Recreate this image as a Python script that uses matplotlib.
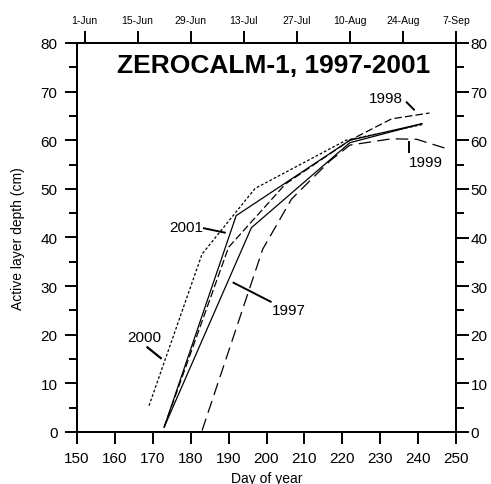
import matplotlib
matplotlib.use("Agg")
import matplotlib.pyplot as plt

plt.rcParams['font.family'] = ['Liberation Sans', 'DejaVu Sans']

# Data (day of year, active layer depth in cm)
day_1997 = [173, 196, 222, 241]
depth_1997 = [1, 42, 59.5, 63.4]

day_1998 = [173, 190, 205, 222, 233, 243]
depth_1998 = [1, 38, 51, 60, 64.4, 65.6]

day_1999 = [183, 199, 206.6, 216.8, 222, 233, 239.6, 247]
depth_1999 = [0.3, 37.6, 47.9, 55.8, 59, 60.3, 60.2, 58.4]

day_2000 = [169, 183, 197, 221, 241]
depth_2000 = [5.4, 36.6, 50.1, 60, 63.2]

day_2001 = [173, 192, 222, 241]
depth_2001 = [1, 44.5, 60, 63.4]

bottom_ticks = [150, 160, 170, 180, 190, 200, 210, 220, 230, 240, 250]
top_tick_days = [152, 166, 180, 194, 208, 222, 236, 250]
top_tick_labels = ['1-Jun', '15-Jun', '29-Jun', '13-Jul', '27-Jul', '10-Aug', '24-Aug', '7-Sep']
y_major = [0, 10, 20, 30, 40, 50, 60, 70, 80]
y_minor = [5, 15, 25, 35, 45, 55, 65, 75]

fig = plt.figure(figsize=(4.91, 4.85), dpi=100)
ax = fig.add_axes([77/491, 1-433/485, (456-77)/491, (433-44)/485])

lw = 0.9
ax.plot(day_1997, depth_1997, color='black', lw=lw, ls='-')
ax.plot(day_2001, depth_2001, color='black', lw=lw, ls='-')
ax.plot(day_1998, depth_1998, color='black', lw=lw, ls=(0, (6, 2.5)))
ax.plot(day_1999, depth_1999, color='black', lw=lw, ls=(0, (10, 5)))
ax.plot(day_2000, depth_2000, color='black', lw=lw, ls=(0, (2.2, 1.6)))

ax.set_xlim(150, 250)
ax.set_ylim(0, 80)
ax.set_xticks(bottom_ticks)
ax.set_yticks(y_major)
ax.set_yticks(y_minor, minor=True)

for s in ax.spines.values():
    s.set_linewidth(1.4)

ax.tick_params(axis='x', which='major', direction='out', length=8.6, width=1.4,
               labelsize=11, pad=5)
ax.tick_params(axis='y', which='major', direction='out', length=8.6, width=1.4,
               labelsize=11, pad=5.5)
ax.tick_params(axis='y', which='minor', direction='out', length=5.8, width=1.4)

# right-hand axis with its own padding
axr = ax.twinx()
axr.set_ylim(0, 80)
axr.set_yticks(y_major)
axr.set_yticks(y_minor, minor=True)
axr.tick_params(axis='y', which='major', direction='out', length=9, width=1.4,
                labelsize=11, pad=1.5)
axr.tick_params(axis='y', which='minor', direction='out', length=5.8, width=1.4)
for s in axr.spines.values():
    s.set_linewidth(1.4)

ax2 = ax.twiny()
ax2.set_xlim(150, 250)
ax2.set_xticks(top_tick_days)
ax2.set_xticklabels(top_tick_labels)
ax2.tick_params(axis='x', direction='out', length=9, width=1.4, labelsize=7.5, pad=4)
for s in ax2.spines.values():
    s.set_linewidth(1.4)

ax.set_ylabel('Active layer depth (cm)', fontsize=10)
ax.yaxis.set_label_coords(-0.137, 0.5)
ax.set_xlabel('Day of year', fontsize=10)
ax.xaxis.set_label_coords(0.5, -0.1)

ax.text(160.5, 74, 'ZEROCALM-1, 1997-2001', fontsize=19, fontweight='bold',
        ha='left', va='baseline')

lab_fs = 11
# labels with leaders
ax.text(183.2, 42.2, '2001', fontsize=lab_fs, ha='right', va='center')
ax.plot([183.5, 189], [41.9, 41], color='black', lw=1.4)

ax.text(201.4, 25.1, '1997', fontsize=lab_fs, ha='left', va='center')
ax.plot([191.3, 201.1], [30.7, 26.8], color='black', lw=1.4)

ax.text(167.7, 19.5, '2000', fontsize=lab_fs, ha='center', va='center')
ax.plot([168.6, 172.1], [17.4, 15.2], color='black', lw=1.6)

ax.text(231.4, 68.7, '1998', fontsize=lab_fs, ha='center', va='center')
ax.plot([237, 238.9], [67.8, 66.3], color='black', lw=1.4)

ax.text(242, 55.5, '1999', fontsize=lab_fs, ha='center', va='center')
ax.plot([237.7, 237.7], [59.6, 57.5], color='black', lw=1.4)

fig.savefig('out.png', dpi=100)
